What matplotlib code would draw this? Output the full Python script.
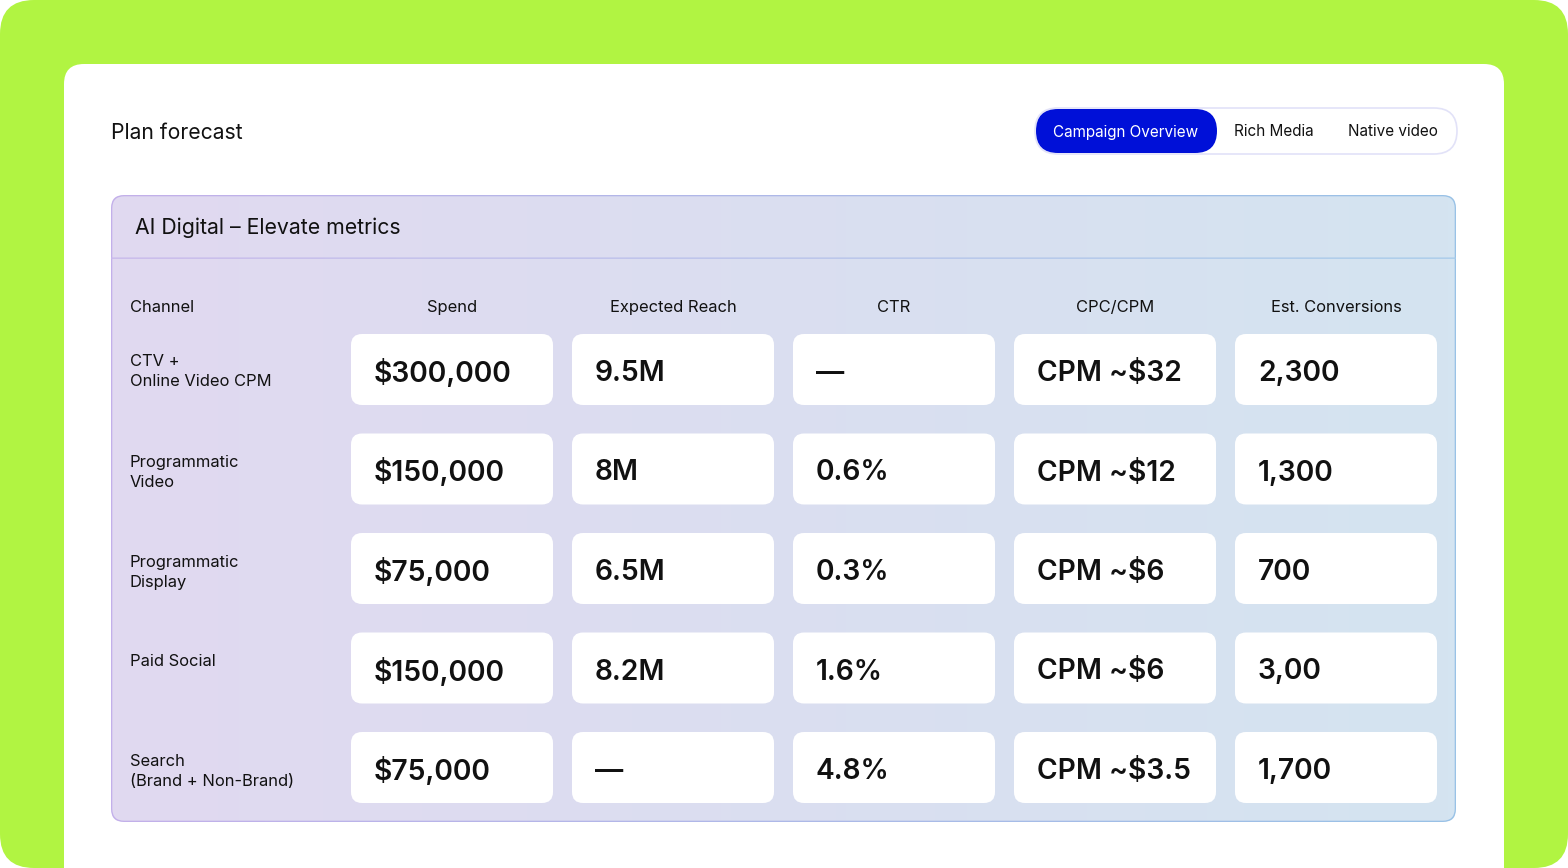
import numpy as np
import matplotlib
matplotlib.use("Agg")
import matplotlib.pyplot as plt
from matplotlib.patches import FancyBboxPatch
from matplotlib.colors import LinearSegmentedColormap

plt.rcParams['font.family'] = ['Inter', 'DejaVu Sans']

# data
title = 'Plan forecast'
tabs = ['Campaign Overview', 'Rich Media', 'Native video']
panel_title = 'AI Digital – Elevate metrics'
columns = ['Spend', 'Expected Reach', 'CTR', 'CPC/CPM', 'Est. Conversions']
channels = ['CTV +\nOnline Video CPM', 'Programmatic\nVideo', 'Programmatic\nDisplay',
            'Paid Social', 'Search\n(Brand + Non-Brand)']
spend = ['$300,000', '$150,000', '$75,000', '$150,000', '$75,000']
reach = ['9.5M', '8M', '6.5M', '8.2M', '—']
ctr = ['—', '0.6%', '0.3%', '1.6%', '4.8%']
cpm = ['CPM ~$32', 'CPM ~$12', 'CPM ~$6', 'CPM ~$6', 'CPM ~$3.5']
conversions = ['2,300', '1,300', '700', '3,00', '1,700']

W, H = 1568, 868
fig = plt.figure(figsize=(W / 100, H / 100), dpi=100)
ax = fig.add_axes([0, 0, 1, 1])
ax.set_xlim(0, W)
ax.set_ylim(H, 0)
ax.axis('off')


def rbox(x0, y0, w, h, r, **kw):
    p = FancyBboxPatch((x0 + r, y0 + r), w - 2 * r, h - 2 * r,
                       boxstyle=f"round,pad={r}", **kw)
    ax.add_patch(p)
    return p


def gradient_fill(patch, c_left, c_right, x0, x1, y0, y1, z):
    cmap = LinearSegmentedColormap.from_list('g', [c_left, c_right])
    grad = np.linspace(0, 1, 256).reshape(1, -1)
    im = ax.imshow(grad, cmap=cmap, extent=(x0, x1, y1, y0), aspect='auto',
                   zorder=z, interpolation='bilinear')
    im.set_clip_path(patch)


# green frame and white card
rbox(0, 0, W, H, 34, facecolor='#B1F442', edgecolor='none', zorder=0)
rbox(64, 64, 1440, 900, 20, facecolor='white', edgecolor='none', zorder=1)

ax.text(111, 133, title, fontsize=15.2, color='#111111', va='center', ha='left', zorder=5)

# tab switcher
rbox(1035, 108, 422, 46, 23, facecolor='white', edgecolor='#E2E2F8', lw=1.2, zorder=2)
rbox(1036, 109, 181, 44, 22, facecolor='#0010D8', edgecolor='none', zorder=3)
tab_x = [1126, 1274, 1393]
for i, (t, tx) in enumerate(zip(tabs, tab_x)):
    ax.text(tx, 132, t, fontsize=11, color='white' if i == 0 else '#111111',
            ha='center', va='center', zorder=5)

# panel with gradient border and fill
px0, py0, px1, py1 = 111, 195, 1456, 822
outer = rbox(px0, py0, px1 - px0, py1 - py0, 13, facecolor='none', edgecolor='none', zorder=2)
gradient_fill(outer, '#C3B0EA', '#99C2E6', px0, px1, py0, py1, 2)
inner = rbox(px0 + 1.3, py0 + 1.3, px1 - px0 - 2.6, py1 - py0 - 2.6, 12,
             facecolor='none', edgecolor='none', zorder=2)
gradient_fill(inner, '#E1D9F0', '#D4E4F1', px0, px1, py0, py1, 2.1)

# header separator
sep = rbox(px0, 257.5, px1 - px0, 1.3, 0.01, facecolor='none', edgecolor='none', zorder=2.2)
gradient_fill(sep, '#C8B8EC', '#A6CBEA', px0, px1, 257.5, 258.8, 2.2)

ax.text(135, 228, panel_title, fontsize=15.3, color='#111111', va='center', ha='left', zorder=5)

# column headers
cell_x0, cell_w, col_pitch = 351, 202, 221
row_y0, cell_h, row_pitch = 334, 71, 99.5
ax.text(130, 307.5, 'Channel', fontsize=11.9, color='#111111', va='center', ha='left', zorder=5)
for j, c in enumerate(columns):
    ax.text(cell_x0 + j * col_pitch + cell_w / 2, 307.5, c, fontsize=11.9, color='#111111',
            va='center', ha='center', zorder=5)

# rows
table = [spend, reach, ctr, cpm, conversions]
for i, ch in enumerate(channels):
    ry = row_y0 + i * row_pitch
    ax.text(130, ry + 20 + (i > 0) * 2, ch, fontsize=11.9, color='#111111', va='top', ha='left',
            linespacing=1.4, zorder=5)
    for j, col in enumerate(table):
        cx = cell_x0 + j * col_pitch
        rbox(cx, ry, cell_w, cell_h, 11, facecolor='white', edgecolor='none', zorder=3)
        ax.text(cx + 23, ry + cell_h / 2 + 4, col[i], fontsize=20.3, fontweight='semibold',
                color='#111111', va='center', ha='left', zorder=5)

fig.savefig('out.png', dpi=100)
